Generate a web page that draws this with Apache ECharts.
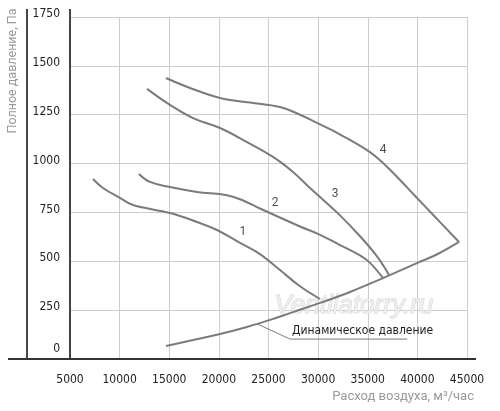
<!DOCTYPE html>
<html><head><meta charset="utf-8">
<script src="https://cdn.jsdelivr.net/npm/echarts@6.0.0/dist/echarts.min.js"></script>
<style>html,body{margin:0;padding:0;background:#fff}#c{width:500px;height:411px}</style>
</head><body><div id="c"></div>
<script>
// ---- data (air flow m3/h, total pressure Pa) ----
const curve1 = [[7317,921],[8325,875],[10038,824],[11348,788],[15076,747],[17797,701],[19812,660],[22129,594],[24144,537],[26160,455],[28175,372],[30190,307]];
const curve2 = [[11952,947],[13061,906],[15076,880],[17797,855],[20819,838],[22500,810],[24144,770],[28175,678],[30090,638],[32206,583],[34221,530],[35229,492],[36539,414]];
const curve3 = [[12759,1382],[15076,1300],[17394,1233],[20114,1182],[22835,1110],[25455,1034],[27470,957],[29183,875],[30492,815],[32206,735],[34221,628],[35934,525],[37143,430]];
const curve4 = [[14673,1438],[17091,1387],[20114,1336],[23137,1312],[26160,1289],[28175,1250],[29888,1208],[31500,1168],[34926,1069],[36539,1003],[38251,916],[39964,824],[41576,738],[44196,599]];
const dynamic = [[14673,67],[17393,97],[20114,128],[22835,164],[25152,200],[27470,240],[30190,287],[33213,343],[36539,414],[39964,491],[42000,536],[44196,599]];
const curveNames = ['1','2','3','4'];
const curveLabelPoints = [[22430,650],[25656,798],[31702,844],[36539,1069]];
const leader = [[23840,180],[27170,102],[38970,102]];
const dynamicName = 'Динамическое давление';
const yTitle = 'Полное давление, Па';
const xTitle = 'Расход воздуха, м³/час';
const watermark = 'Ventilatorry.ru';
const watermarkAt = [33600, 271];

const NARROW = '"Liberation Sans Narrow","DejaVu Sans Condensed",sans-serif';
const chart = echarts.init(document.getElementById('c'));
function curve(name, data){
  return {type:'line', name, data, smooth:0.4, symbol:'none', silent:true, z:3,
    lineStyle:{color:'#7b7b7b', width:2}};
}
chart.setOption({
  animation:false,
  grid:{left:70, right:33, top:17, bottom:52},
  xAxis:{type:'value', min:5000, max:45000, interval:5000,
    axisLine:{show:false}, axisTick:{show:false},
    splitLine:{lineStyle:{color:'#cccccc', width:1}},
    axisLabel:{color:'#222', fontFamily:NARROW, fontSize:12, margin:15, formatter:v => String(v)}},
  yAxis:{type:'value', min:0, max:1750, interval:250,
    axisLine:{show:false}, axisTick:{show:false},
    splitLine:{lineStyle:{color:'#cccccc', width:1}},
    axisLabel:{color:'#222', fontFamily:NARROW, fontSize:12, margin:10,
      formatter:v => v === 0 ? '{z|0}' : '{n|' + v + '}',
      rich:{n:{fontFamily:NARROW, fontSize:12, color:'#222', padding:[0,0,6,0]},
            z:{fontFamily:NARROW, fontSize:12, color:'#222', padding:[0,0,20,0]}}}},
  series:[
    curve('1', curve1), curve('2', curve2), curve('3', curve3), curve('4', curve4),
    curve('dyn', dynamic),
    {type:'line', data:leader, symbol:'none', silent:true, z:2,
      lineStyle:{color:'#7b7b7b', width:1}},
    {type:'scatter', symbolSize:0, silent:true, z:5,
      data:curveLabelPoints.map((p,i)=>({name:curveNames[i], value:p})),
      label:{show:true, position:'inside', formatter:'{b}', color:'#222', fontSize:12, fontFamily:'Roboto'}}
  ]
});
const o = chart.convertToPixel({gridIndex:0}, [5000,0]);
const tr = chart.convertToPixel({gridIndex:0}, [45000,1750]);
const lp = chart.convertToPixel({gridIndex:0}, leader[1]);
const wm = chart.convertToPixel({gridIndex:0}, watermarkAt);
const dark = {stroke:'#333', lineWidth:1.8};
chart.setOption({graphic:[
  {type:'text', z:1, x:wm[0], y:wm[1], style:{text:watermark, font:'italic 26px "Liberation Sans", sans-serif',
    fill:'#efefef', stroke:'#d2d2d2', lineWidth:1, align:'center', verticalAlign:'middle'}},
  {type:'line', z:10, shape:{x1:o[0]-43, y1:tr[1]-8, x2:o[0]-43, y2:o[1]}, style:dark},
  {type:'line', z:10, shape:{x1:o[0], y1:tr[1]-8, x2:o[0], y2:o[1]}, style:dark},
  {type:'line', z:10, shape:{x1:o[0]-62, y1:o[1], x2:tr[0]+9, y2:o[1]}, style:dark},
  {type:'text', z:10, x:o[0]-57, y:tr[1]+54, rotation:Math.PI/2,
    style:{text:yTitle, font:'12.5px Roboto, sans-serif', fill:'#9a9a9a', align:'center', verticalAlign:'middle'}},
  {type:'text', z:10, x:tr[0]+7, y:o[1]+38,
    style:{text:xTitle, font:'13px Roboto, sans-serif', fill:'#9a9a9a', align:'right', verticalAlign:'middle'}},
  {type:'text', z:10, x:lp[0]+2, y:lp[1]-8,
    style:{text:dynamicName, font:'12px ' + NARROW, fill:'#222', align:'left', verticalAlign:'middle'}}
]});
</script>
</body></html>
